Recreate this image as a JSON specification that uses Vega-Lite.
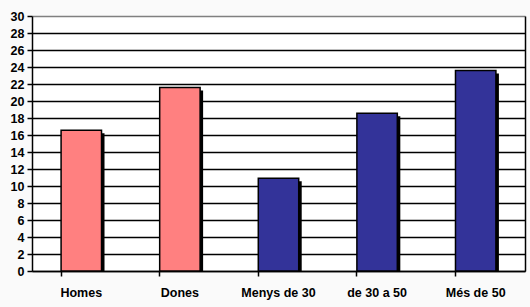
{
  "$schema": "https://vega.github.io/schema/vega-lite/v6.json",
  "autosize": "none",
  "width": 493,
  "height": 255,
  "padding": {"left": 32, "top": 16, "right": 5, "bottom": 36},
  "background": "#FAFAFA",
  "view": {"fill": "white", "stroke": null},
  "config": {
    "axis": {"labelFont": "Liberation Sans", "labelFontWeight": "bold", "labelFontSize": 12.5, "labelColor": "black", "domainColor": "black", "tickColor": "black", "domainWidth": 1.5, "tickWidth": 1.5}
  },
  "data": {
    "values": [
      {"cat": "Homes", "grup": "sexe", "valor": 16.55},
      {"cat": "Dones", "grup": "sexe", "valor": 21.6},
      {"cat": "Menys de 30", "grup": "edat", "valor": 10.9},
      {"cat": "de 30 a 50", "grup": "edat", "valor": 18.55},
      {"cat": "Més de 50", "grup": "edat", "valor": 23.6}
    ]
  },
  "encoding": {
    "x": {
      "field": "cat", "type": "nominal", "sort": null,
      "scale": {"paddingInner": 0.59, "paddingOuter": 0.295},
      "axis": {"title": null, "labelAngle": 0, "bandPosition": 0, "tickSize": 5, "labelPadding": 10, "grid": false}
    }
  },
  "layer": [
    {
      "mark": {"type": "bar", "color": "black", "xOffset": 3, "yOffset": 3, "clip": true},
      "encoding": {
        "y": {
          "field": "valor", "type": "quantitative",
          "scale": {"domain": [0, 30], "nice": false},
          "axis": {
            "title": null, "values": [0,2,4,6,8,10,12,14,16,18,20,22,24,26,28,30],
            "grid": true,
            "gridColor": {"condition": {"test": "datum.value == 30", "value": "#808080"}, "value": "black"},
            "gridWidth": 1.5, "gridOpacity": 1, "tickSize": 5, "labelPadding": 3
          }
        }
      }
    },
    {
      "mark": {"type": "bar", "stroke": "black", "strokeWidth": 1.5},
      "encoding": {
        "y": {
          "field": "valor", "type": "quantitative",
          "scale": {"domain": [0, 30], "nice": false},
          "axis": {"orient": "right", "title": null, "labels": false, "ticks": false, "grid": false, "domainColor": "black"}
        },
        "color": {
          "field": "grup", "type": "nominal", "legend": null,
          "scale": {"domain": ["sexe", "edat"], "range": ["#FF8080", "#333399"]}
        }
      }
    }
  ],
  "resolve": {"axis": {"y": "independent"}}
}
